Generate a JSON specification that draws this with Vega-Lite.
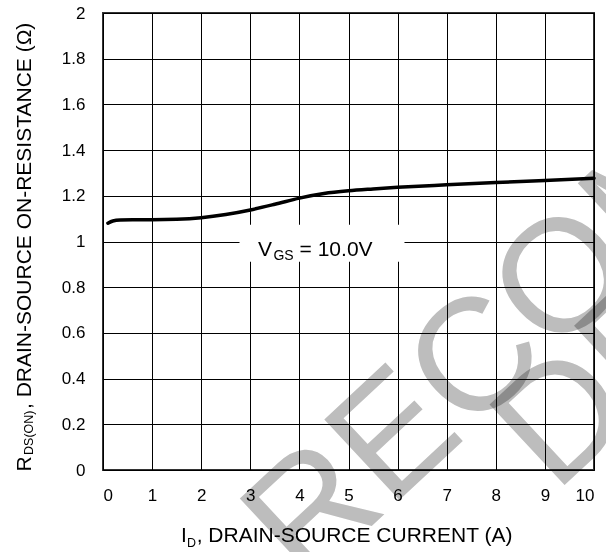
{
  "$schema": "https://vega.github.io/schema/vega-lite/v6.json",
  "width": 491,
  "height": 457,
  "autosize": "none",
  "padding": {"left": 103, "top": 13, "right": 12, "bottom": 82},
  "background": "white",
  "config": {
    "view": {"stroke": "#333333", "strokeWidth": 2},
    "font": "Liberation Sans",
    "axis": {
      "grid": true, "gridColor": "#000000", "gridWidth": 1, "gridOpacity": 1,
      "domain": false, "ticks": false, "tickSize": 0,
      "labelFont": "Liberation Sans", "labelFontSize": 17, "labelColor": "#000000"
    },
    "axisX": {"labelPadding": 17},
    "axisY": {"labelPadding": 18}
  },
  "data": {"values": [
    {"i": 0.1, "r": 1.080}, {"i": 0.2, "r": 1.090}, {"i": 0.35, "r": 1.094},
    {"i": 0.6, "r": 1.095}, {"i": 1.0, "r": 1.095}, {"i": 1.5, "r": 1.097},
    {"i": 2.0, "r": 1.104}, {"i": 2.5, "r": 1.118}, {"i": 3.0, "r": 1.138},
    {"i": 3.5, "r": 1.163}, {"i": 4.0, "r": 1.190}, {"i": 4.5, "r": 1.210},
    {"i": 5.0, "r": 1.222}, {"i": 5.5, "r": 1.230}, {"i": 6.0, "r": 1.237},
    {"i": 7.0, "r": 1.248}, {"i": 8.0, "r": 1.258}, {"i": 9.0, "r": 1.267},
    {"i": 10.0, "r": 1.277}
  ]},
  "layer": [
    {
      "data": {"values": [
        {"w": "RECOMMENDED", "px": 4.12, "py": -0.516},
        {"w": "DESIGN", "px": 9.204, "py": -0.105}
      ]},
      "mark": {"type": "text", "angle": 317, "fontSize": 160, "fill": "#bdbdbd", "align": "left", "baseline": "alphabetic", "blend": "multiply", "font": "Liberation Sans"},
      "encoding": {
        "x": {"field": "px", "type": "quantitative", "scale": {"domain": [0, 10], "nice": false},
              "axis": {"values": [0,1,2,3,4,5,6,7,8,9,10], "format": "d", "title": null}},
        "y": {"field": "py", "type": "quantitative", "scale": {"domain": [0, 2], "nice": false},
              "axis": {"values": [0,0.2,0.4,0.6,0.8,1,1.2,1.4,1.6,1.8,2], "format": "~g", "title": null}},
        "text": {"field": "w"}
      }
    },
    {
      "data": {"values": [{}]},
      "mark": {"type": "rect", "fill": "white"},
      "encoding": {
        "x": {"datum": 2.78, "type": "quantitative", "scale": {"domain": [0, 10], "nice": false},
              "axis": {"values": [0,1,2,3,4,5,6,7,8,9,10], "format": "d", "title": null}},
        "x2": {"datum": 6.14},
        "y": {"datum": 0.911, "type": "quantitative", "scale": {"domain": [0, 2], "nice": false},
              "axis": {"values": [0,0.2,0.4,0.6,0.8,1,1.2,1.4,1.6,1.8,2], "format": "~g", "title": null}},
        "y2": {"datum": 1.073}
      }
    },
    {
      "mark": {"type": "line", "color": "#000000", "strokeWidth": 3.5, "interpolate": "monotone", "strokeCap": "round"},
      "encoding": {
        "x": {"field": "i", "type": "quantitative", "scale": {"domain": [0, 10], "nice": false},
              "axis": {"values": [0,1,2,3,4,5,6,7,8,9,10], "format": "d", "title": null}},
        "y": {"field": "r", "type": "quantitative", "scale": {"domain": [0, 2], "nice": false},
              "axis": {"values": [0,0.2,0.4,0.6,0.8,1,1.2,1.4,1.6,1.8,2], "format": "~g", "title": null}}
      }
    },
    {
      "data": {"values": [
        {"t": "V", "px": 3.155, "py": 0.937, "fs": 21},
        {"t": "GS", "px": 3.47, "py": 0.92, "fs": 14},
        {"t": "= 10.0V", "px": 4.004, "py": 0.937, "fs": 21},
        {"t": "I", "px": 1.587, "py": -0.314, "fs": 21},
        {"t": "D", "px": 1.71, "py": -0.336, "fs": 12.5},
        {"t": ", DRAIN-SOURCE CURRENT (A)", "px": 1.907, "py": -0.314, "fs": 21}
      ]},
      "mark": {"type": "text", "align": "left", "baseline": "alphabetic", "color": "#000000"},
      "encoding": {
        "x": {"field": "px", "type": "quantitative", "scale": {"domain": [0, 10], "nice": false},
              "axis": {"values": [0,1,2,3,4,5,6,7,8,9,10], "format": "d", "title": null}},
        "y": {"field": "py", "type": "quantitative", "scale": {"domain": [0, 2], "nice": false},
              "axis": {"values": [0,0.2,0.4,0.6,0.8,1,1.2,1.4,1.6,1.8,2], "format": "~g", "title": null}},
        "text": {"field": "t"},
        "size": {"field": "fs", "type": "quantitative", "scale": null}
      }
    },
    {
      "data": {"values": [
        {"t": "R", "px": -1.457, "py": -0.007, "fs": 21},
        {"t": "DS(ON)", "px": -1.425, "py": 0.066, "fs": 12.5},
        {"t": ", DRAIN-SOURCE ON-RESISTANCE (Ω)", "px": -1.457, "py": 0.267, "fs": 21}
      ]},
      "mark": {"type": "text", "angle": 270, "align": "left", "baseline": "alphabetic", "color": "#000000"},
      "encoding": {
        "x": {"field": "px", "type": "quantitative", "scale": {"domain": [0, 10], "nice": false},
              "axis": {"values": [0,1,2,3,4,5,6,7,8,9,10], "format": "d", "title": null}},
        "y": {"field": "py", "type": "quantitative", "scale": {"domain": [0, 2], "nice": false},
              "axis": {"values": [0,0.2,0.4,0.6,0.8,1,1.2,1.4,1.6,1.8,2], "format": "~g", "title": null}},
        "text": {"field": "t"},
        "size": {"field": "fs", "type": "quantitative", "scale": null}
      }
    }
  ]
}
